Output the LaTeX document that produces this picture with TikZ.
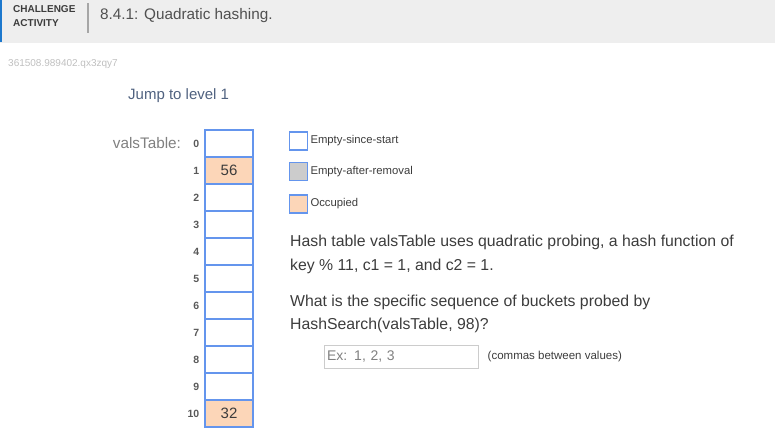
\documentclass[tikz,border=0pt]{standalone}
\usepackage{fontspec}
\setmainfont{Liberation Sans}
\usetikzlibrary{positioning}

\definecolor{cellblue}{RGB}{100,149,237}
\definecolor{peach}{RGB}{252,214,184}
\definecolor{hdrgray}{RGB}{238,238,238}
\definecolor{accent}{RGB}{29,120,205}
\definecolor{txt}{RGB}{60,60,60}
\definecolor{slate}{RGB}{80,98,128}

\begin{document}
\begin{tikzpicture}[x=1pt,y=-1pt,
  cell/.style={draw=cellblue,line width=1.2pt,minimum width=48pt,minimum height=27pt,
    inner sep=0pt,font=\fontsize{15}{17}\selectfont,text=txt},
  full/.style={cell,fill=peach},
  idx/.style={inner sep=0pt,font=\bfseries\fontsize{10.5}{12}\selectfont,text=txt!85},
  legbox/.style={draw=cellblue,line width=1.6pt,minimum size=18pt,inner sep=0pt},
  leglabel/.style={anchor=west,inner sep=0pt,font=\fontsize{11.3}{13}\selectfont,text=txt},
  prose/.style={anchor=west,inner sep=0pt,font=\fontsize{15.8}{18}\selectfont,text=txt}]
  \useasboundingbox (0,0) rectangle (775,447);

  % header band
  \fill[hdrgray] (0,0) rectangle (775,43);
  \fill[accent] (0,0) rectangle (2,42);
  \node[anchor=west,inner sep=0pt,font=\bfseries\fontsize{10}{11}\selectfont,text=txt] (ch) at (13,9) {CHALLENGE};
  \node[anchor=west,inner sep=0pt,font=\bfseries\fontsize{10}{11}\selectfont,text=txt] (act) at (13,23) {ACTIVITY};
  \draw[gray!70,line width=2pt] (88,3) -- (88,33);
  \node[anchor=west,inner sep=0pt,font=\fontsize{15.3}{17}\selectfont,text=txt!90] (title) at (100,16) {8.4.1: Quadratic hashing.};

  \node[anchor=west,inner sep=0pt,font=\fontsize{10}{11}\selectfont,text=gray!50] (seed) at (8,64) {361508.989402.qx3zqy7};
  \node[anchor=west,inner sep=0pt,font=\fontsize{15}{17}\selectfont,text=slate] (jump) at (128,96) {Jump to level 1};

  % the table
  \foreach \i in {0,2,3,4,5,6,7,8,9}
    \node[cell] (c\i) at (229,143.5+27*\i) {};
  \node[full] (c1) at (229,170.5) {56};
  \node[full] (c10) at (229,413.5) {32};
  \foreach \i in {0,...,10}
    \node[idx,left=5pt of c\i] (n\i) {\i};
  \node[left=12pt of n0,inner sep=0pt,font=\fontsize{15.3}{17}\selectfont,text=gray] (lbl) {valsTable:};

  % legend
  \node[legbox] (e1) at (298.5,141) {};
  \node[legbox,fill=gray!40] (e2) at (298.5,171.5) {};
  \node[legbox,fill=peach] (e3) at (298.5,204) {};
  \node[leglabel,right=2pt of e1] (t1) {Empty-since-start};
  \node[leglabel,right=2pt of e2] (t2) {Empty-after-removal};
  \node[leglabel,right=2pt of e3] (t3) {Occupied};

  % question
  \node[prose] (q1) at (290,242) {Hash table valsTable uses quadratic probing, a hash function of};
  \node[prose] (q2) at (290,266) {key \% 11, c1 = 1, and c2 = 1.};
  \node[prose] (q3) at (290,302) {What is the specific sequence of buckets probed by};
  \node[prose] (q4) at (290,325) {HashSearch(valsTable, 98)?};

  \node[draw=gray!40,line width=1pt,minimum width=154pt,minimum height=23pt,inner sep=3pt,
    text width=148pt,align=left,font=\fontsize{14}{16}\selectfont,text=gray] (ans) at (401,356.5) {Ex: 1, 2, 3};
  \node[right=9pt of ans,inner sep=0pt,font=\fontsize{11.5}{13}\selectfont,text=txt] (hint) {(commas between values)};
\end{tikzpicture}
\end{document}
